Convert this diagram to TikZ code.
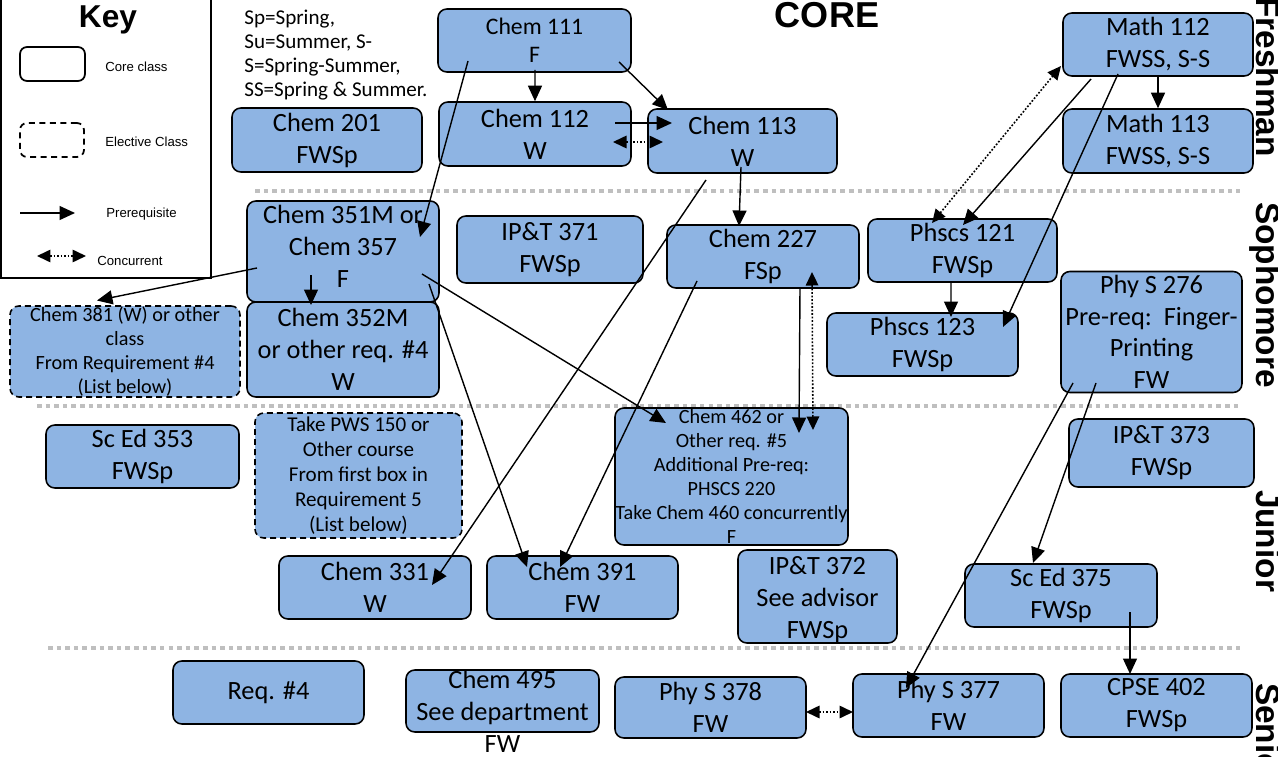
\documentclass[tikz,border=0pt]{standalone}
\usepackage{fontspec}
\usepackage{xcolor}
\usepackage{tikz}
\setmainfont{Carlito}
\newfontfamily\arialfont{Liberation Sans}
\definecolor{boxblue}{RGB}{142, 180, 227}
\definecolor{divgray}{RGB}{191, 191, 191}
\usetikzlibrary{arrows.meta,positioning,calc}
\newcommand{\bigtext}{\fontsize{15}{18.2}\selectfont}
\newcommand{\smalltext}{\fontsize{11.5}{13.6}\selectfont}

\begin{document}
\begin{tikzpicture}[
    x=0.02cm, y=-0.02cm,
    course/.style={
        rectangle,
        rounded corners=5pt,
        draw=black,
        line width=0.9pt,
        fill=boxblue,
        align=center,
        inner sep=0pt,
        font=\bigtext,
        minimum width=3.82cm,
        minimum height=1.26cm
    },
    elective/.style={course, dash pattern=on 3.4pt off 2.3pt, font=\smalltext},
    prereq/.style={-{Triangle[length=3.1mm,width=2.8mm]}, line width=0.8pt},
    concur/.style={{Triangle[length=2.7mm,width=2.5mm]}-{Triangle[length=2.7mm,width=2.5mm]},
        line width=0.9pt, dash pattern=on 1pt off 1pt},
    divider/.style={draw=divgray, line width=2.6pt, dash pattern=on 2.6pt off 2.3pt},
    yearlabel/.style={rotate=-90, anchor=base, inner sep=0pt,
        font=\arialfont\bfseries\fontsize{19}{22}\selectfont},
    keytext/.style={anchor=base west, inner sep=0pt, font=\arialfont\fontsize{7.5}{9}\selectfont}
]
    \useasboundingbox (0,0) rectangle (1278,757);

    % Year dividers
    \draw[divider] (255,191) -- (1240,191);
    \draw[divider] (37,406) -- (1240,406);
    \draw[divider] (48,648) -- (1240,648);

    % Key
    \draw[line width=1.1pt] (1,-5) rectangle (211,278);
    \node[anchor=base, inner sep=0pt, font=\arialfont\bfseries\fontsize{18}{20}\selectfont] (keytitle) at (108,28) {Key};
    \node[draw, rounded corners=4pt, line width=1pt, minimum width=1.3cm, minimum height=0.68cm] (keycore) at (52.5,64) {};
    \node[keytext] (keycoretxt) at (105,71.5) {Core class};
    \node[draw, rounded corners=4pt, line width=1pt, dash pattern=on 3.4pt off 2.6pt,
        minimum width=1.28cm, minimum height=0.68cm] (keyelec) at (52,140) {};
    \node[keytext] (keyelectxt) at (105,146.5) {Elective Class};
    \coordinate (keypreA) at (20,213);
    \coordinate (keypreB) at (75,213);
    \draw[prereq] (keypreA) -- (keypreB);
    \node[keytext] (keypretxt) at (106,217) {Prerequisite};
    \coordinate (keyconA) at (37,256);
    \coordinate (keyconB) at (86,256);
    \draw[concur] (keyconA) -- (keyconB);
    \node[keytext] (keycontxt) at (97,265.5) {Concurrent};

    % Semester legend and title
    \node[anchor=north west, inner sep=0pt, align=left, font=\fontsize{12}{13.6}\selectfont] (legend) at (244,10) {
        Sp=Spring,\\
        Su=Summer, S-\\
        S=Spring-Summer,\\
        SS=Spring \& Summer.
    };
    \node[anchor=base, inner sep=0pt, font=\arialfont\bfseries\fontsize{20.5}{24}\selectfont] (core) at (827,28) {CORE};

    % Year labels
    \node[yearlabel] (freshman) at (1256,77) {Freshman};
    \node[yearlabel] (sophomore) at (1256,295) {Sophomore};
    \node[yearlabel] (junior) at (1256,541) {Junior};
    \node[yearlabel] (senior) at (1256,735) {Senior};

    % Freshman
    \node[course, minimum width=3.86cm, font=\fontsize{13.5}{16}\selectfont] (chemA) at (534.5,40.5) {Chem 111\\F};
    \node[course, minimum width=3.84cm, minimum height=1.28cm] (chemB) at (535,134) {Chem 112\\W};
    \node[course, minimum width=3.78cm, minimum height=1.28cm] (chemC) at (742.5,141) {Chem 113\\W};
    \node[course, minimum width=3.80cm, minimum height=1.28cm] (chemD) at (327,140) {Chem 201\\FWSp};
    \node[course, minimum width=3.80cm] (mathA) at (1158,44.5) {Math 112\\FWSS, S-S};
    \node[course, minimum width=3.80cm, minimum height=1.28cm] (mathB) at (1158,141) {Math 113\\FWSS, S-S};

    % Sophomore
    \node[course, minimum width=3.84cm, minimum height=2.02cm,
        label={[align=center, font=\bigtext, inner sep=0pt, yshift=0.1cm]center:Chem 351M or\\Chem 357\\F}] (chemE) at (343,251.5) {};
    \node[course, minimum width=3.72cm, minimum height=1.34cm] (iptA) at (550,249.5) {IP\&T 371\\FWSp};
    \node[course, minimum width=3.84cm] (chemF) at (763,256.5) {Chem 227\\FSp};
    \node[course, minimum width=3.78cm] (physA) at (962.5,250.5) {Phscs 121\\FWSp};
    \node[course] (physB) at (922.5,344.5) {Phscs 123\\FWSp};
    \node[course, minimum width=3.62cm, minimum height=2.42cm, font=\fontsize{15}{18}\selectfont] (phyA) at (1151.5,332) {Phy S 276\\Pre-req:\ \ Finger-\\Printing\\FW};
    \node[elective, minimum width=4.60cm, minimum height=1.82cm] (chemG) at (125,351.5) {Chem 381 (W) or other\\class\\From Requirement \#4\\(List below)};
    \node[course, minimum width=3.84cm, minimum height=1.90cm] (chemH) at (343,349.5) {Chem 352M\\or other req. \#4\\W};

    % Junior
    \node[course, minimum width=3.86cm] (scedA) at (142.5,456.5) {Sc Ed 353\\FWSp};
    \node[elective, minimum width=4.14cm, minimum height=2.50cm, font=\fontsize{12}{14.2}\selectfont] (pws) at (358.5,475.5) {Take PWS 150 or\\Other course\\From first box in\\Requirement 5\\(List below)};
    \node[course, minimum width=4.66cm, minimum height=2.74cm, font=\smalltext] (chemI) at (731.5,476.5) {Chem 462 or\\Other req. \#5\\Additional Pre-req:\\PHSCS 220\\Take Chem 460 concurrently\\F};
    \node[course, minimum width=3.70cm, minimum height=1.36cm] (iptB) at (1161.5,453) {IP\&T 373\\FWSp};
    \node[course, minimum width=3.84cm] (chemJ) at (375,587.5) {Chem 331\\W};
    \node[course] (chemK) at (582.5,587.5) {Chem 391\\FW};
    \node[course, minimum width=3.18cm, minimum height=1.86cm,
        label={[align=center, font=\bigtext, inner sep=0pt, yshift=-0.07cm]center:IP\&T 372\\See advisor\\FWSp}] (iptC) at (817.5,596.5) {};
    \node[course, minimum width=3.84cm] (scedB) at (1061,595.5) {Sc Ed 375\\FWSp};

    % Senior
    \node[course] (reqA) at (268.5,692.5) {Req. \#4};
    \node[course, minimum width=3.86cm, minimum height=1.24cm,
        label={[align=center, font=\bigtext, inner sep=0pt, yshift=-0.2cm]center:Chem 495\\See department\\FW}] (chemL) at (502.5,701) {};
    \node[course, minimum height=1.22cm] (phyB) at (710.5,707.5) {Phy S 378\\FW};
    \node[course] (phyC) at (948.5,705.5) {Phy S 377\\FW};
    \node[course] (cpse) at (1156.5,705.5) {CPSE 402\\FWSp};

    % Prerequisites
    \draw[prereq] ($(chemA.center)+(0.5,29.5)$) -- (chemB.north);
    \draw[prereq] ($(chemA.center)+(84.5,21.5)$) -- ($(chemC.center)+(-74.5,-31)$);
    \draw[prereq] ($(chemA.center)+(-66.5,20.5)$) -- ($(chemE.center)+(77,-14.5)$);
    \draw[prereq] ($(chemB.center)+(80,-11)$) -- ($(chemC.center)+(-70.5,-18)$);
    \draw[prereq] ($(chemC.center)+(-36.5,39)$) -- ($(chemJ.center)+(57,-2.5)$);
    \draw[prereq] ($(chemC.center)+(-1.5,26)$) -- ($(chemF.center)+(-24,-30.5)$);
    \draw[prereq] (mathA.south) -- (mathB.north);
    \draw[prereq] ($(mathA.center)+(-67,34.5)$) -- ($(physA.center)+(0.5,-25.5)$);
    \draw[prereq] ($(mathA.center)+(-40,29.5)$) -- ($(physB.center)+(80.5,-17.5)$);
    \draw[prereq] ($(physA.center)+(-11.5,31.5)$) -- ($(physB.center)+(28.5,-27.5)$);
    \draw[prereq] ($(chemE.center)+(-86,16.5)$) -- ($(chemG.center)+(-28,-51)$);
    \draw[prereq] ($(chemE.center)+(-32,23.5)$) -- ($(chemH.center)+(-32,-44.5)$);
    \draw[prereq] ($(chemE.center)+(79,22.5)$) -- ($(chemI.center)+(-65.5,-53.5)$);
    \draw[prereq] ($(chemE.center)+(86,32.5)$) -- ($(chemK.center)+(-55.5,-20.5)$);
    \draw[prereq] ($(chemF.center)+(37,31.5)$) -- ($(chemI.center)+(67.5,-43.5)$);
    \draw[prereq] ($(chemF.center)+(-66,24.5)$) -- ($(chemK.center)+(-22.5,-20.5)$);
    \draw[prereq] ($(phyA.center)+(-78.5,51)$) -- ($(phyC.center)+(-42.5,-17.5)$);
    \draw[prereq] ($(phyA.center)+(-55.5,51)$) -- ($(scedB.center)+(-28,-32.5)$);
    \draw[prereq] ($(scedB.center)+(69,16.5)$) -- ($(cpse.center)+(-26.5,-31.5)$);

    % Concurrent
    \draw[concur] ($(chemB.center)+(78,8)$) -- ($(chemC.center)+(-79.5,1)$);
    \draw[concur] ($(physA.center)+(-30.5,-27.5)$) -- ($(mathA.center)+(-97,21.5)$);
    \draw[concur] ($(chemF.center)+(49,15.5)$) -- ($(chemI.center)+(81.5,-46.5)$);
    \draw[concur] ($(phyB.center)+(95.5,4.5)$) -- ($(phyC.center)+(-95.5,6.5)$);
\end{tikzpicture}
\end{document}
